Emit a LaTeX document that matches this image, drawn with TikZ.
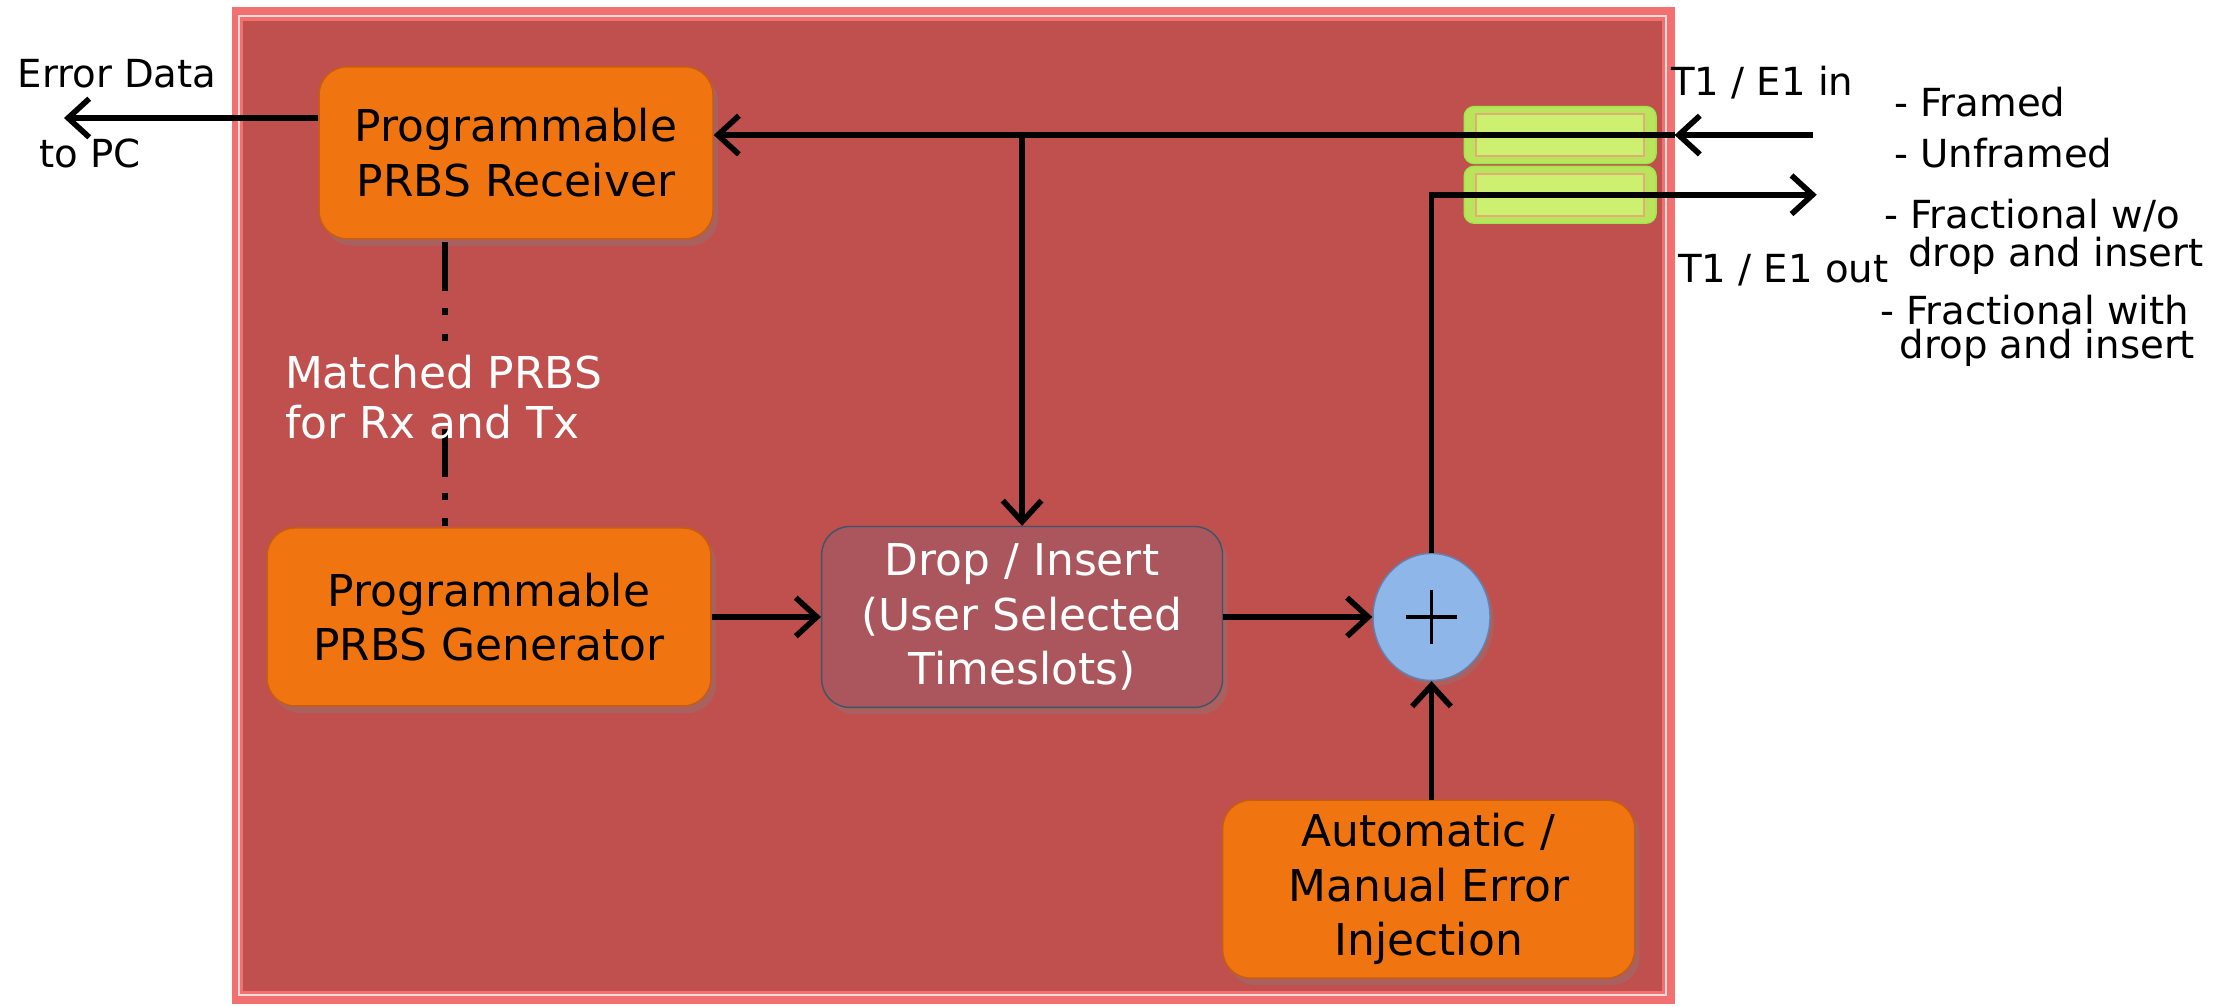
\documentclass[tikz,border=0pt]{standalone}
\usepackage{fontspec}
\setmainfont{DejaVu Sans}
\usetikzlibrary{arrows.meta,shapes.geometric,shadows}

\definecolor{panelred}{RGB}{192,80,77}
\definecolor{panelrim}{RGB}{242,112,112}
\definecolor{blockorange}{RGB}{240,117,16}
\definecolor{blockedge}{RGB}{200,94,12}
\definecolor{dropfill}{RGB}{170,86,92}
\definecolor{dropedge}{RGB}{62,84,104}
\definecolor{sumfill}{RGB}{143,182,232}
\definecolor{sumedge}{RGB}{96,132,180}
\definecolor{portfill}{RGB}{186,228,92}
\definecolor{portinner}{RGB}{206,240,112}
\definecolor{portedge}{RGB}{222,176,118}

\tikzset{
	block/.style={draw=blockedge, fill=blockorange, rounded corners=0.28cm,
		align=center, font=\fontsize{12.5}{15.5}\selectfont,
		drop shadow={opacity=0.35, shadow xshift=0.5mm, shadow yshift=-0.7mm}},
	dropbox/.style={block, draw=dropedge, fill=dropfill, text=white},
	port/.style={draw=portfill!85!green, fill=portfill, rounded corners=0.1cm,
		minimum width=1.92cm, minimum height=0.57cm},
	portcore/.style={draw=portedge, fill=portinner, line width=0.5pt,
		minimum width=1.68cm, minimum height=0.42cm},
	arr/.style={-{Straight Barb[length=6pt, width=11pt]}, line width=1.6pt},
	lbl/.style={font=\fontsize{11}{13}\selectfont, inner sep=0pt, anchor=west}
}

\begin{document}
\begin{tikzpicture}[x=0.014216cm, y=-0.014216cm]
	\useasboundingbox (0,0) rectangle (1568,708);
	% panel
	\fill[panelrim] (163,5) rectangle (1178,706);
	\draw[white!75!panelrim, line width=0.6pt] (168,11) rectangle (1172,700);
	\fill[panelred] (171,15) rectangle (1169,697);
	\coordinate (rim) at (1178,0);

	% blocks
	\node[block, minimum width=3.94cm, minimum height=1.72cm] (rx) at (363,107.5) {Programmable\\PRBS Receiver};
	\node[block, minimum width=4.44cm, minimum height=1.78cm] (gen) at (344,434) {Programmable\\PRBS Generator};
	\node[dropbox, minimum width=4.01cm, minimum height=1.81cm] (drop) at (719,434) {Drop / Insert\\(User Selected\\Timeslots)};
	\node[block, minimum width=4.12cm, minimum height=1.78cm] (inj) at (1005,625.5) {Automatic /\\Manual Error\\Injection};
	\node[ellipse, draw=sumedge, fill=sumfill, minimum width=1.17cm, minimum height=1.27cm,
		drop shadow={opacity=0.35, shadow xshift=0.4mm, shadow yshift=-0.5mm}] (sum) at (1007,434) {};
	\draw[line width=1.1pt] (sum.center) ++(-18,0) -- ++(36,0);
	\draw[line width=1.1pt] (sum.center) ++(0,-19) -- ++(0,38);

	% line interface
	\node[port] (pin) at (1097.5,95) {};
	\node[portcore] at (pin) {};
	\node[port] (pout) at (1097.5,137) {};
	\node[portcore] at (pout) {};

	% connectors
	\coordinate (tin) at (1275,95);
	\coordinate (tout) at (1278,137);
	\coordinate (pc) at (45,83);
	\coordinate (mx) at (313,0);
	\draw[arr] (tin) -- (tin -| rim);
	\draw[arr] (tin -| rim) -- (tin -| rx.east);
	\draw[arr] (tin -| drop.north) -- (drop.north);
	\draw[arr] (pc -| rx.west) -- (pc);
	\draw[arr] (gen.east) -- (drop.west);
	\draw[arr] (drop.east) -- (sum.west);
	\draw[arr] (inj.north -| sum.south) -- (sum.south);
	\draw[arr] (sum.north) -- (sum.north |- tout) -- (tout);
	\draw[line width=1.6pt, dash pattern=on 0pt off 0.81pt on 13.75pt off 4.9pt on 2pt off 5.3pt on 2pt off 25.1pt on 13.75pt off 4.5pt on 2pt off 5.3pt on 2pt off 2pt]
		(rx.south -| mx) -- (gen.north -| mx);

	% labels
	\node[text=white, align=left, anchor=west, inner sep=0pt, font=\fontsize{12.5}{14.2}\selectfont] (match) at (200,279.5) {Matched PRBS\\for Rx and Tx};
	\node[lbl] (errdata) at (12,52) {Error Data};
	\node[lbl] (topc) at (27,108) {to PC};
	\node[lbl] (t1in) at (1175,58) {T1 / E1 in};
	\node[lbl] (t1out) at (1180,190) {T1 / E1 out};
	\node[lbl] (framed) at (1332,72) {- Framed};
	\node[lbl] (unframed) at (1332,108) {- Unframed};
	\node[lbl] (fracwo) at (1325,152) {- Fractional w/o};
	\node[lbl] (fracwoB) at (1342,180) {drop and insert};
	\node[lbl] (fracw) at (1322,218) {- Fractional with};
	\node[lbl] (fracwB) at (1336,245) {drop and insert};
\end{tikzpicture}
\end{document}
